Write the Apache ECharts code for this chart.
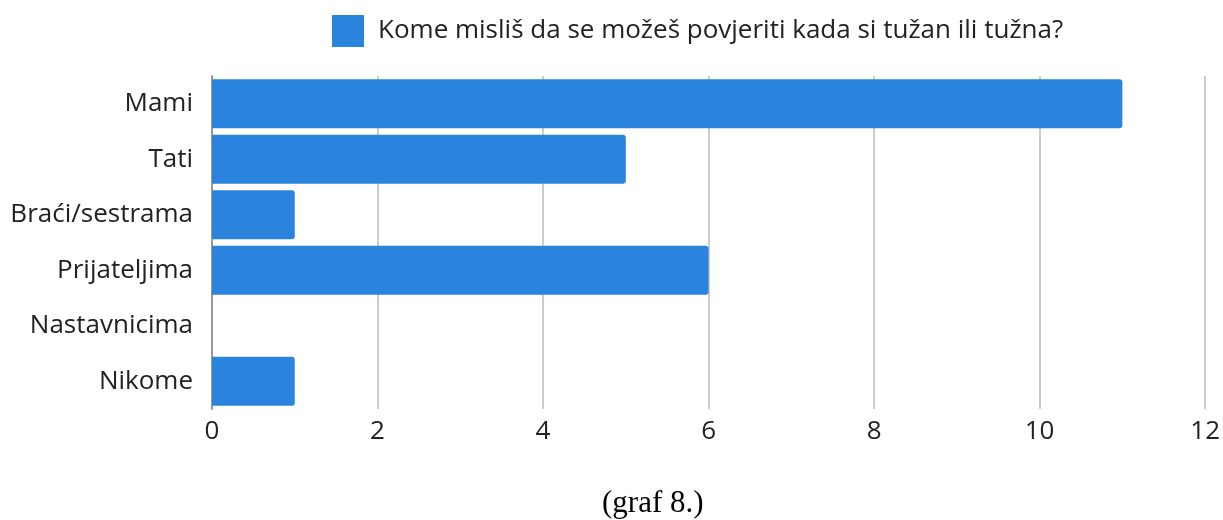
<!DOCTYPE html>
<html><head><meta charset="utf-8">
<script src="https://cdn.jsdelivr.net/npm/echarts@6/dist/echarts.min.js"></script>
<style>html,body{margin:0;padding:0;background:#fff}#c{width:1223px;height:520px}</style>
</head><body><div id="c"></div>
<script>
const categories = ["Mami","Tati","Braći/sestrama","Prijateljima","Nastavnicima","Nikome"];
const values = [11,5,1,6,0,1];
const seriesName = "Kome misliš da se možeš povjeriti kada si tužan ili tužna?";
const caption = "(graf 8.)";
const chart = echarts.init(document.getElementById('c'));
chart.setOption({
  animation:false,
  backgroundColor:'#fff',
  textStyle:{fontFamily:'Open Sans'},
  legend:{top:15,left:332,itemWidth:32,itemHeight:32,itemGap:10,padding:0,
    textStyle:{fontFamily:'Open Sans',fontSize:26,color:'#222',padding:[0,0,0,9]},
    itemStyle:{borderRadius:2},
    data:[{name:seriesName,icon:'rect'}]},
  title:{text:caption,left:602,top:488,padding:0,textStyle:{fontFamily:'Liberation Serif',fontWeight:'normal',fontSize:31,color:'#000'}},
  grid:{left:212,right:17,top:76,bottom:111},
  xAxis:{type:'value',min:0,max:12,interval:2,
    axisLine:{show:false},axisTick:{show:false},
    axisLabel:{fontFamily:'Open Sans',fontSize:26,color:'#222',margin:10},
    splitLine:{lineStyle:{color:'#cccccc',width:2}}},
  yAxis:{type:'category',data:categories,inverse:true,
    axisLine:{show:true,lineStyle:{color:'#999',width:2}},axisTick:{show:false},
    axisLabel:{fontFamily:'Open Sans',fontSize:26,color:'#222',margin:19}},
  series:[{name:seriesName,type:'bar',data:values,barCategoryGap:'11.7%',
    itemStyle:{color:'#2a84dd',borderRadius:[0,3,3,0]}}]
});
</script></body></html>
